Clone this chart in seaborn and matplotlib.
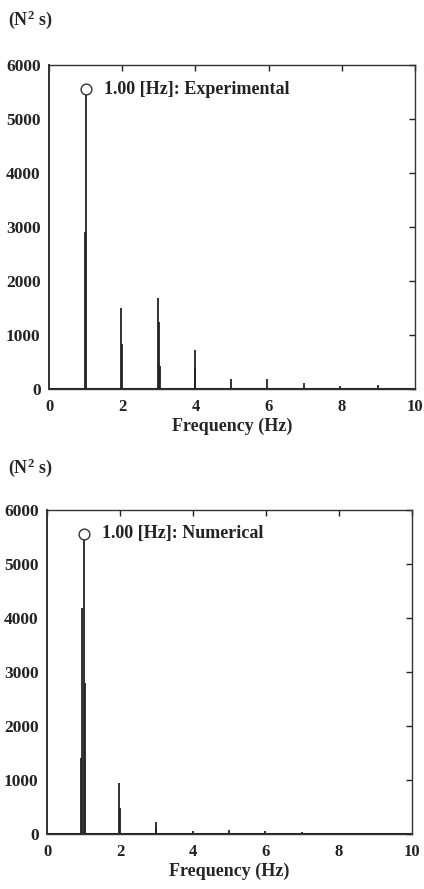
import matplotlib
matplotlib.use("Agg")
import matplotlib.pyplot as plt
import seaborn as sns
import pandas as pd

# ---- data ----
exp_freq = [0.98, 1.00, 1.98, 2.00, 2.98, 3.00, 3.02, 3.98, 4.00, 4.96, 5.96, 6.96, 7.94, 8.99]
exp_amp = [2900, 5550, 1500, 830, 1680, 1240, 420, 720, 390, 190, 190, 110, 50, 75]

num_freq = [0.92, 0.97, 1.00, 1.03, 1.98, 2.00, 2.98, 3.00, 4.00, 4.98, 5.98, 6.98, 7.96]
num_amp = [1410, 4190, 5560, 2800, 950, 480, 230, 120, 60, 70, 60, 30, 20]

exp_label = "1.00 [Hz]: Experimental"
num_label = "1.00 [Hz]: Numerical"
ylabel = r"(N$^{\mathrm{2}}$ s)"
xlabel = "Frequency (Hz)"
xticks = [0, 2, 4, 6, 8, 10]
yticks = [0, 1000, 2000, 3000, 4000, 5000, 6000]

sns.set_theme(style="white")
plt.rcParams["font.family"] = ["Liberation Serif", "DejaVu Serif"]
plt.rcParams["font.weight"] = "bold"
plt.rcParams["mathtext.fontset"] = "custom"
plt.rcParams["mathtext.rm"] = "Liberation Serif:bold"
plt.rcParams["mathtext.it"] = "Liberation Serif:bold"
plt.rcParams["mathtext.bf"] = "Liberation Serif:bold"

fig = plt.figure(figsize=(4.24, 8.89), dpi=100)

W, H = 424, 889
def axes_px(l, r, t, b):
    return fig.add_axes([l / W, 1 - b / H, (r - l) / W, (b - t) / H])

ax1 = axes_px(49, 415, 65, 389)
ax2 = axes_px(47, 412, 510, 834)

def draw(ax, freq, amp, label):
    df = pd.DataFrame({"f": freq, "a": amp})
    ax.vlines(df["f"], 0, df["a"], color="#222222", linewidth=1.3)
    base = pd.DataFrame({"f": [0, 10], "a": [0, 0]})
    sns.lineplot(data=base, x="f", y="a", ax=ax, color="#222222", linewidth=2.2)
    pk = df.loc[df["a"].idxmax()]
    sns.scatterplot(x=[pk["f"]], y=[pk["a"]], ax=ax, marker="o", s=60,
                    facecolor="white", edgecolor="#333333", linewidth=1.0, zorder=5)
    ax.text(pk["f"] + 0.5, pk["a"], label, fontsize=13, fontweight="bold",
            va="center", ha="left", color="#222222")
    ax.set_xlim(0, 10)
    ax.set_ylim(0, 6000)
    ax.set_xticks(xticks)
    ax.set_yticks(yticks)
    ax.set_xticklabels([str(t) for t in xticks], fontsize=12, fontweight="bold")
    ax.set_yticklabels([str(t) for t in yticks], fontsize=12.5, fontweight="bold")
    ax.tick_params(direction="in", length=4, width=1, top=True, right=True,
                   colors="#222222", pad=7)
    ax.tick_params(axis="y", pad=6)
    for s in ax.spines.values():
        s.set_color("#333333")
        s.set_linewidth(1.0)
    ax.spines["left"].set_linewidth(1.4)
    ax.set_xlabel(xlabel, fontsize=13, fontweight="bold", labelpad=2)
    ax.set_ylabel("")

draw(ax1, exp_freq, exp_amp, exp_label)
draw(ax2, num_freq, num_amp, num_label)

fig.text(8 / W, 1 - 20 / H, ylabel, fontsize=13, fontweight="bold", va="center", ha="left")
fig.text(8 / W, 1 - 468 / H, ylabel, fontsize=13, fontweight="bold", va="center", ha="left")

fig.savefig("out.png", dpi=100)
